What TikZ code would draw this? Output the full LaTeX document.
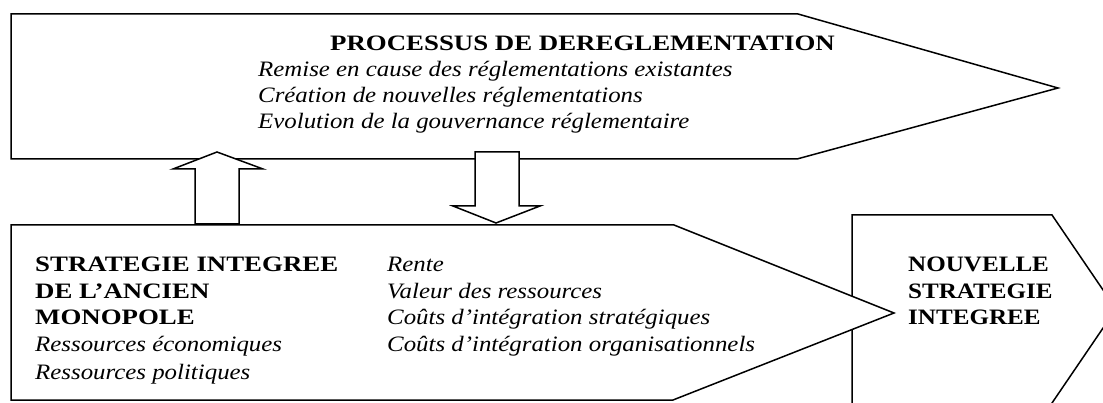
\documentclass[tikz,border=0pt]{standalone}
\usepackage{fontspec}
\setmainfont{Liberation Serif}
\newfontfamily\bfwide[FakeStretch=1.22]{Liberation Serif}
\newfontfamily\bfnarrow[FakeStretch=1.14]{Liberation Serif}
\newfontfamily\itwide[FakeStretch=1.13]{Liberation Serif}
\begin{document}
\begin{tikzpicture}[x=1pt,y=-1pt,
  outline/.style={draw=black, fill=white, line width=1.5pt, line join=miter},
  txt/.style={anchor=base west, inner sep=0pt},
  bt/.style={txt, font=\bfwide\fontsize{22}{26}\selectfont\bfseries},
  bn/.style={txt, font=\bfnarrow\fontsize{22}{26}\selectfont\bfseries},
  it/.style={txt, font=\itwide\fontsize{22}{26}\selectfont\itshape}]
\useasboundingbox (0,0) rectangle (1103,403);
\clip (0,0) rectangle (1103,403);
% right box (new integrated strategy)
\draw[outline] (852,420) -- (852,215) -- (1052,215) -- (1116,309) -- (1052,403) -- (1043,420);
% bottom pentagon (former monopoly)
\draw[outline] (11,225) -- (674,225) -- (894,313) -- (673,400) -- (11,400) -- cycle;
% top pentagon (deregulation process)
\draw[outline] (11,14) -- (798,14) -- (1058,88) -- (797,159) -- (11,159) -- cycle;
% up block arrow
\draw[outline] (195,224) -- (195,169) -- (173,169) -- (217,152) -- (263,169) -- (239,169) -- (239,224) -- cycle;
% down block arrow
\draw[outline] (475,152) -- (519,152) -- (519,206) -- (540,206) -- (496,223) -- (453,206) -- (475,206) -- cycle;
% texts: top
\node[bt] (t0) at (330,51) {PROCESSUS DE DEREGLEMENTATION};
\node[it] (t1) at (258,77) {Remise en cause des réglementations existantes};
\node[it] (t2) at (258,103) {Création de nouvelles réglementations};
\node[it] (t3) at (258,129) {Evolution de la gouvernance réglementaire};
% bottom left
\node[bt] (b1) at (35,272) {STRATEGIE INTEGREE};
\node[bt] (b2) at (35,299) {DE L’ANCIEN};
\node[bt] (b3) at (35,325) {MONOPOLE};
\node[it] (b4) at (35,352) {Ressources économiques};
\node[it] (b5) at (35,379) {Ressources politiques};
% bottom middle
\node[it] (m1) at (387,272) {Rente};
\node[it] (m2) at (387,299) {Valeur des ressources};
\node[it] (m3) at (387,325) {Coûts d’intégration stratégiques};
\node[it] (m4) at (387,352) {Coûts d’intégration organisationnels};
% right box
\node[bn] (n1) at (908,272) {NOUVELLE};
\node[bn] (n2) at (908,299) {STRATEGIE};
\node[bn] (n3) at (908,325) {INTEGREE};
\end{tikzpicture}
\end{document}
